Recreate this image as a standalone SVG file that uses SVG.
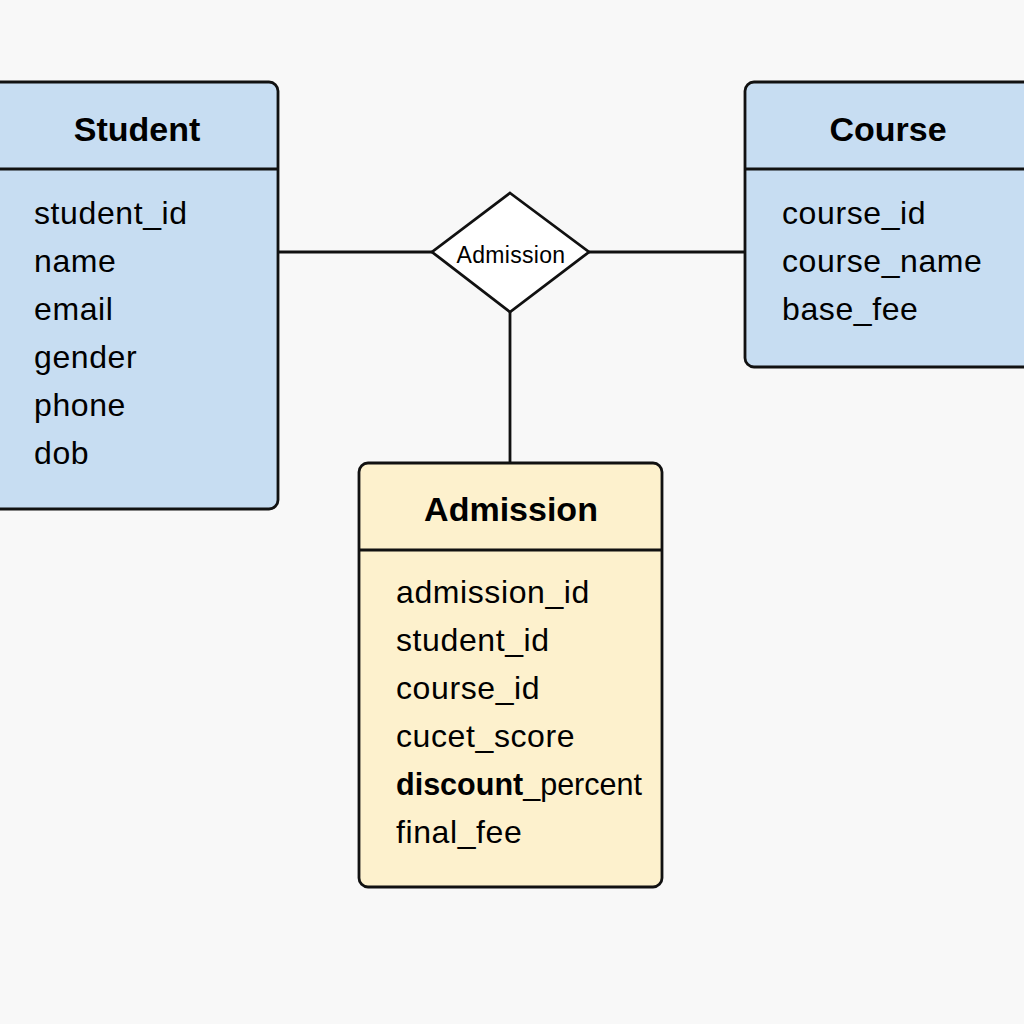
<svg xmlns="http://www.w3.org/2000/svg" width="1024" height="1024" viewBox="0 0 1024 1024">
<style>
.bg{fill:#f8f8f8}
.ent{stroke:#111;stroke-width:2.8}
.blue{fill:#c7ddf2}
.yel{fill:#fdf1cd}
.sep{stroke:#111;stroke-width:2.8}
.title{font-family:"Liberation Sans",Arial,sans-serif;font-weight:bold;font-size:34px;fill:#000;text-anchor:middle}
.attr{font-family:"Liberation Sans",Arial,sans-serif;font-size:32px;letter-spacing:0.6px;fill:#000}
.conn{stroke:#111;stroke-width:2.8;fill:none}
.rel{fill:#fff;stroke:#111;stroke-width:2.8}
.rtext{font-family:"Liberation Sans",Arial,sans-serif;font-size:23px;letter-spacing:0.3px;fill:#000;text-anchor:middle}
</style>
<rect class="bg" x="0" y="0" width="1024" height="1024"/>
<g id="connectors">
<line class="conn" x1="278" y1="252" x2="432" y2="252"/>
<line class="conn" x1="589" y1="252" x2="745" y2="252"/>
<line class="conn" x1="510" y1="312" x2="510" y2="463"/>
</g>
<g id="student">
<rect class="ent blue" x="-10" y="82" width="288" height="427" rx="9"/>
<line class="sep" x1="-10" y1="169" x2="278" y2="169"/>
<text class="title" x="137" y="141">Student</text>
<text class="attr" x="34" y="224">student_id</text>
<text class="attr" x="34" y="272">name</text>
<text class="attr" x="34" y="320">email</text>
<text class="attr" x="34" y="368">gender</text>
<text class="attr" x="34" y="416">phone</text>
<text class="attr" x="34" y="464">dob</text>
</g>
<g id="course">
<rect class="ent blue" x="745" y="82" width="290" height="285" rx="9"/>
<line class="sep" x1="745" y1="169" x2="1035" y2="169"/>
<text class="title" x="888" y="141">Course</text>
<text class="attr" x="782" y="224">course_id</text>
<text class="attr" x="782" y="272">course_name</text>
<text class="attr" x="782" y="320">base_fee</text>
</g>
<g id="admission-rel">
<polygon class="rel" points="510,193 589,252 510,312 432,252"/>
<text class="rtext" x="511" y="263">Admission</text>
</g>
<g id="admission">
<rect class="ent yel" x="359" y="463" width="303" height="424" rx="9"/>
<line class="sep" x1="359" y1="550" x2="662" y2="550"/>
<text class="title" x="511" y="521">Admission</text>
<text class="attr" x="396" y="603">admission_id</text>
<text class="attr" x="396" y="651">student_id</text>
<text class="attr" x="396" y="699">course_id</text>
<text class="attr" x="396" y="747">cucet_score</text>
<text class="attr" x="396" y="795" style="letter-spacing:0" textLength="246" lengthAdjust="spacingAndGlyphs"><tspan font-weight="bold">discount</tspan>_percent</text>
<text class="attr" x="396" y="843">final_fee</text>
</g>
</svg>
